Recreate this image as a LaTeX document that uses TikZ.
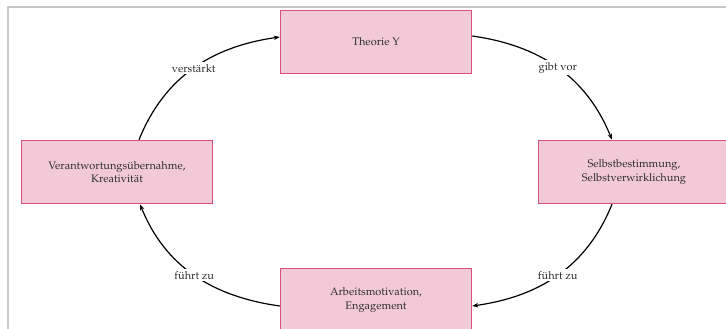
\documentclass[tikz,border=0pt]{standalone}
\usepackage[T1]{fontenc}
\usepackage{mathpazo}
\usetikzlibrary{arrows.meta}
\definecolor{boxfill}{HTML}{F2C9D7}
\definecolor{boxline}{HTML}{D9507F}
\definecolor{framegray}{HTML}{C8C8C8}
\definecolor{txt}{HTML}{2E2E2E}
\tikzset{
  box/.style={draw=boxline, line width=1.5pt, fill=boxfill, minimum width=191pt, minimum height=63pt, inner sep=0pt, align=center, text=txt, font=\fontsize{11}{13.5}\selectfont},
  conn/.style={line width=1.2pt, -{Stealth[length=6pt,width=4.5pt]}},
  lbl/.style={fill=white, text=txt, inner sep=2pt, font=\fontsize{11}{13}\selectfont}
}
\begin{document}
\begin{tikzpicture}[x=1pt,y=1pt]
\useasboundingbox (0,0) rectangle (726,329);
\clip (0,0) rectangle (726,329);
\fill[white] (0,0) rectangle (726,329);
\draw[framegray, line width=2pt] (8,-5) -- (8,321.5) -- (740,321.5);
\node[box] (T) at (376,287) {Theorie Y};
\node[box] (L) at (117,157) {Verantwortungs\"ubernahme,\\Kreativit\"at};
\node[box] (R) at (634,157) {Selbstbestimmung,\\Selbstverwirklichung};
\node[box] (B) at (376,29) {Arbeitsmotivation,\\Engagement};
\draw[conn] ([xshift=22pt]L.north) to[out=68, in=188] node[lbl, pos=0.5] {verst\"arkt} ([yshift=5pt]T.west);
\draw[conn] ([yshift=6pt]T.east) to[out=-8, in=112] node[lbl, pos=0.5] {gibt vor} ([xshift=-22pt]R.north);
\draw[conn] ([xshift=-22pt]R.south) to[out=-112, in=8] node[lbl, pos=0.5] {f\"uhrt zu} ([yshift=-6pt]B.east);
\draw[conn] ([yshift=-6pt]B.west) to[out=172, in=-68] node[lbl, pos=0.5] {f\"uhrt zu} ([xshift=23pt]L.south);
\end{tikzpicture}
\end{document}
